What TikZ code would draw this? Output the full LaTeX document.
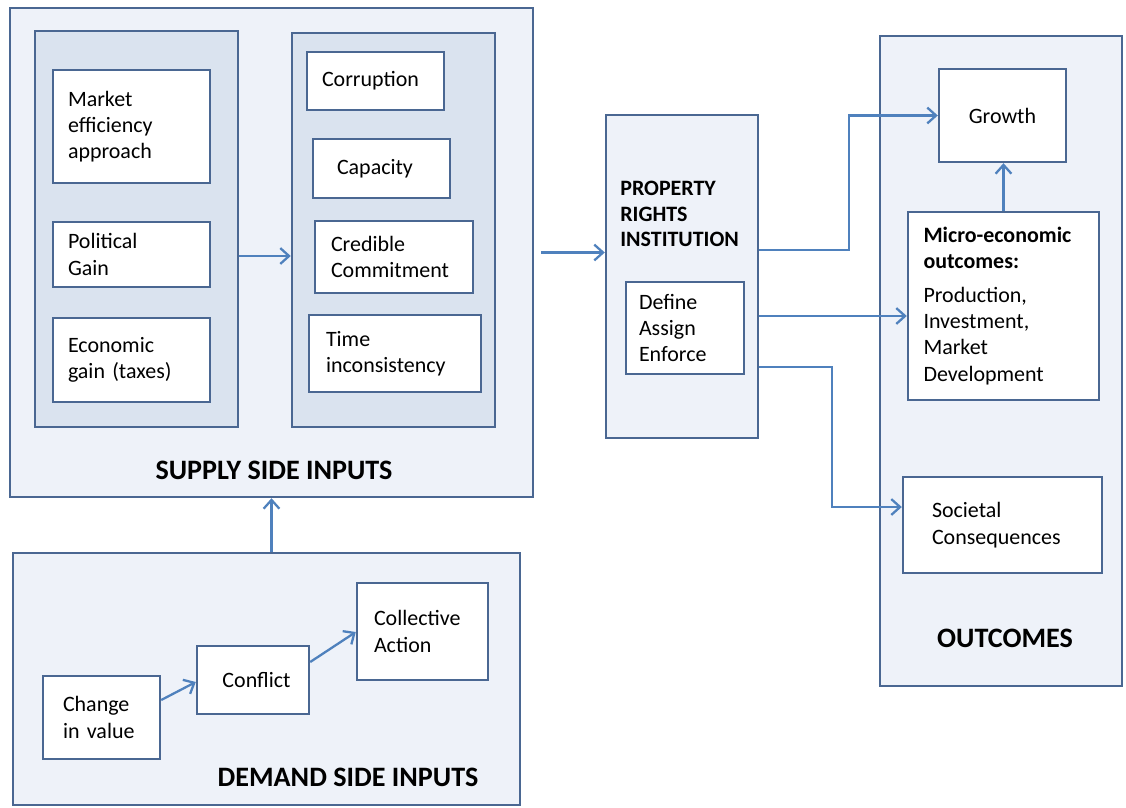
\documentclass[tikz,border=0pt]{standalone}
\usepackage{fontspec}
\setmainfont{Carlito}
\usepackage{xcolor}
\usepackage{tikz}
\usetikzlibrary{arrows.meta}
\usetikzlibrary{fit}
\definecolor{edgeblue}{RGB}{74,103,146}
\definecolor{arrowblue}{RGB}{79,129,189}
\definecolor{outerfill}{RGB}{238,242,249}
\definecolor{panelfill}{RGB}{218,227,239}
\tikzstyle{boxframe} = [draw=edgeblue, line width=1.4pt, inner sep=0pt]
\tikzstyle{outerbox} = [boxframe, fill=outerfill]
\tikzstyle{panelbox} = [boxframe, fill=panelfill]
\tikzstyle{cellbox} = [boxframe, fill=white, align=left, font=\fontsize{12.5}{15}\selectfont]
\tikzstyle{link} = [draw=arrowblue, line width=1.3pt, -{Straight Barb[length=5pt,width=9pt]}]
\tikzstyle{heading} = [inner sep=0pt, font=\bfseries\fontsize{16}{19}\selectfont]

\begin{document}
\begin{tikzpicture}[x=0.02cm, y=-0.02cm]
                \useasboundingbox (0,0) rectangle (1126,808);

                % supply side
                \node[outerbox, fit={(10,8) (533,497)}] (supply) {};
                \node[panelbox, fit={(35,31) (238,427)}] (pone) {};
                \node[panelbox, fit={(292,33) (495,427)}] (ptwo) {};
                \node[cellbox, minimum width=3.14cm, minimum height=2.26cm, text width=2.54cm] (market) at (131.5,126.5) {Market\\efficiency\\approach};
                \node[cellbox, minimum width=3.14cm, minimum height=1.30cm, text width=2.54cm] (political) at (131.5,254.5) {Political\\Gain};
                \node[cellbox, minimum width=3.14cm, minimum height=1.68cm, text width=2.54cm] (economic) at (131.5,360) {Economic\\gain (taxes)};
                \node[cellbox, minimum width=2.74cm, minimum height=1.16cm, text width=2.14cm] (corruption) at (375.5,81) {Corruption};
                \node[cellbox, minimum width=2.74cm, minimum height=1.18cm, text width=1.78cm] (capacity) at (381.5,168.5) {Capacity};
                \node[cellbox, minimum width=3.16cm, minimum height=1.44cm, text width=2.52cm] (credible) at (394,257) {Credible\\Commitment};
                \node[cellbox, minimum width=3.44cm, minimum height=1.54cm, text width=2.76cm] (timeinc) at (395,353.5) {Time\\inconsistency};
                \node[heading] (supplytitle) at (274,470) {SUPPLY SIDE INPUTS};

                % demand side
                \node[outerbox, fit={(13,553) (520,805)}] (demand) {};
                \node[cellbox, minimum width=2.34cm, minimum height=1.66cm, text width=1.54cm] (change) at (101.5,717.5) {Change\\in value};
                \node[cellbox, minimum width=2.24cm, minimum height=1.36cm, align=center] (conflict) at (253,680) {\hspace*{0.14cm}Conflict};
                \node[cellbox, minimum width=2.62cm, minimum height=1.94cm, text width=1.94cm] (collective) at (422.5,631.5) {Collective\\Action};
                \node[heading] (demandtitle) at (348,777) {DEMAND SIDE INPUTS};

                % property rights
                \node[outerbox, fit={(606,115) (758,438)}] (prop) {};
                \node[anchor=west, align=left, inner sep=0pt, font=\bfseries\fontsize{12.5}{14.7}\selectfont] (proptitle) at (620,214) {PROPERTY\\RIGHTS\\INSTITUTION};
                \node[cellbox, minimum width=2.36cm, minimum height=1.84cm, text width=1.84cm] (define) at (685,328) {Define\\Assign\\Enforce};

                % outcomes
                \node[outerbox, fit={(880,36) (1122,686)}] (outcomes) {};
                \node[cellbox, minimum width=2.54cm, minimum height=1.86cm, align=center] (growth) at (1002.5,115.5) {Growth};
                \node[cellbox, minimum width=3.82cm, minimum height=3.76cm, text width=3.2cm] (micro) at (1003.5,306) {\textbf{Micro-economic}\\\textbf{outcomes:}\\[4pt]Production,\\Investment,\\Market\\Development};
                \node[cellbox, minimum width=3.98cm, minimum height=1.92cm, text width=2.82cm] (societal) at (1002.5,525) {Societal\\Consequences};
                \node[heading] (outtitle) at (1005,638) {OUTCOMES};

                % arrows
                \draw[link] (pone.east |- 0,256) -- (ptwo.west |- 0,256);
                \draw[link, shorten <=0.14cm] (supply.east) -- (supply.east -| prop.west);
                \draw[link] (demand.north -| supply.south) -- (supply.south);
                \draw[link] (change.east |- 0,700) -- (conflict.west |- 0,682);
                \draw[link] (conflict.east |- 0,662) -- (collective.west |- 0,632);
                \draw[link] (prop.east |- 0,250) -- (849,250) |- (growth.west);
                \draw[link] (prop.east |- 0,316) -- (micro.west |- 0,316);
                \draw[link] (prop.east |- 0,367) -- (832,367) |- (societal.west |- 0,507);
                \draw[link] (micro.north) -- (micro.north |- growth.south);

\end{tikzpicture}
\end{document}
